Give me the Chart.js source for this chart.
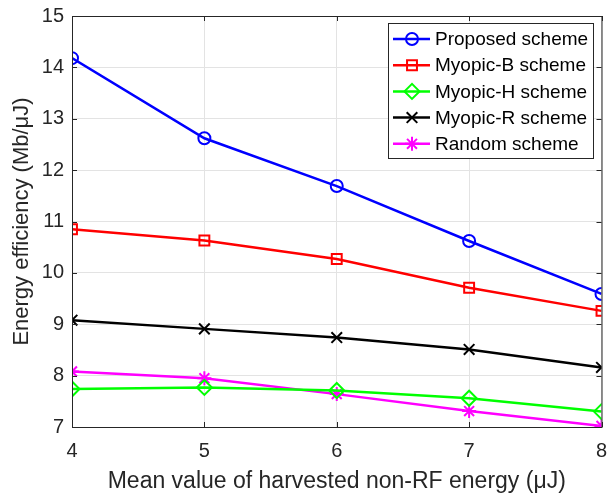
<!DOCTYPE html>
<html>
<head>
<meta charset="utf-8">
<script src="https://cdn.jsdelivr.net/npm/chart.js@4"></script>
<style>
  html, body { margin: 0; padding: 0; background: #fff; }
  #wrap { width: 611px; height: 493px; }
</style>
</head>
<body>
<div id="wrap"><canvas id="c" width="611" height="493"></canvas></div>
<script>
// data
const xValues = [4, 5, 6, 7, 8];
const proposed = [14.18, 12.62, 11.69, 10.62, 9.59];
const myopicB = [10.85, 10.63, 10.27, 9.71, 9.26];
const myopicH = [7.74, 7.77, 7.71, 7.56, 7.30];
const myopicR = [9.08, 8.91, 8.74, 8.51, 8.16];
const randomScheme = [8.08, 7.95, 7.64, 7.31, 7.02];
const seriesNames = ["Proposed scheme", "Myopic-B scheme", "Myopic-H scheme", "Myopic-R scheme", "Random scheme"];
const yTicks = [7, 8, 9, 10, 11, 12, 13, 14, 15];
const xTitle = "Mean value of harvested non-RF energy (\u03bcJ)";
const yTitle = "Energy efficiency (Mb/\u03bcJ)";

const font = "'Liberation Sans', Arial, Helvetica, sans-serif";
const axisColor = "#262626";

function pts(vals) {
  return xValues.map((x, i) => ({ x: x, y: vals[i] }));
}

function ds(label, vals, color, style, radius) {
  return {
    label: label,
    data: pts(vals),
    borderColor: color,
    backgroundColor: "transparent",
    borderWidth: 2.5,
    pointStyle: style,
    pointRadius: radius,
    pointBorderWidth: 2,
    pointBorderColor: color,
    pointBackgroundColor: "transparent",
    tension: 0
  };
}

// box around plot, inward ticks
const boxPlugin = {
  id: "box",
  afterDraw(chart) {
    const ctx = chart.ctx;
    const a = chart.chartArea;
    const sx = chart.scales.x, sy = chart.scales.y;
    ctx.save();
    ctx.strokeStyle = axisColor;
    ctx.lineWidth = 1;
    ctx.strokeRect(a.left + 0.5, a.top + 0.5, a.right - a.left, a.bottom - a.top);
    ctx.beginPath();
    xValues.forEach(v => {
      const px = Math.round(sx.getPixelForValue(v)) + 0.5;
      ctx.moveTo(px, a.bottom); ctx.lineTo(px, a.bottom - 5);
      ctx.moveTo(px, a.top); ctx.lineTo(px, a.top + 5);
    });
    yTicks.forEach(v => {
      const py = Math.round(sy.getPixelForValue(v)) + 0.5;
      ctx.moveTo(a.left, py); ctx.lineTo(a.left + 5, py);
      ctx.moveTo(a.right, py); ctx.lineTo(a.right - 5, py);
    });
    ctx.stroke();
    ctx.restore();
  }
};

// legend drawn inside the plot, top right
const legendPlugin = {
  id: "boxLegend",
  afterDraw(chart) {
    const ctx = chart.ctx;
    const left = 388, top = 23, w = 205, h = 135;
    ctx.save();
    ctx.fillStyle = "#fff";
    ctx.fillRect(left, top, w, h);
    ctx.strokeStyle = "#262626";
    ctx.lineWidth = 1;
    ctx.strokeRect(left + 0.5, top + 0.5, w, h);
    ctx.font = "19px " + font;
    ctx.textBaseline = "middle";
    chart.data.datasets.forEach((d, i) => {
      const y = top + 16 + i * 26.2;
      ctx.strokeStyle = d.borderColor;
      ctx.lineWidth = 2.5;
      ctx.beginPath();
      ctx.moveTo(left + 5, y);
      ctx.lineTo(left + 42, y);
      ctx.stroke();
      ctx.lineWidth = 2;
      ctx.fillStyle = "transparent";
      Chart.helpers.drawPoint(ctx, {
        pointStyle: d.pointStyle,
        radius: d.pointRadius,
        rotation: 0,
        borderWidth: 2
      }, left + 24, y);
      ctx.fillStyle = "#000";
      ctx.fillText(d.label, left + 47, y + 1);
    });
    ctx.restore();
  }
};

new Chart(document.getElementById("c"), {
  type: "line",
  data: {
    datasets: [
      ds(seriesNames[0], proposed, "#0000ff", "circle", 6),
      ds(seriesNames[1], myopicB, "#ff0000", "rect", 7),
      ds(seriesNames[2], myopicH, "#00ff00", "rectRot", 7.5),
      ds(seriesNames[3], myopicR, "#000000", "crossRot", 7.5),
      ds(seriesNames[4], randomScheme, "#ff00ff", "star", 7)
    ]
  },
  options: {
    responsive: false,
    animation: false,
    layout: { padding: { left: 0, top: 16, right: 7, bottom: 0 } },
    plugins: {
      legend: { display: false },
      tooltip: { enabled: false }
    },
    scales: {
      x: {
        type: "linear",
        min: 4,
        max: 8,
        ticks: {
          stepSize: 1,
          padding: 12,
          color: axisColor,
          font: { family: font, size: 20 }
        },
        grid: { color: "#e3e3e3", drawTicks: false },
        border: { display: false },
        title: {
          display: true,
          text: xTitle,
          color: axisColor,
          font: { family: font, size: 23 },
          padding: { top: 0, bottom: -2 }
        },
        afterFit(scale) {
          scale.height = 66;
          scale.paddingLeft = 0;
          scale.paddingRight = 0;
        }
      },
      y: {
        min: 7,
        max: 15,
        afterBuildTicks(scale) { scale.ticks = yTicks.map(v => ({ value: v })); },
        ticks: {
          padding: 8,
          color: axisColor,
          font: { family: font, size: 20 }
        },
        grid: { color: "#e3e3e3", drawTicks: false },
        border: { display: false },
        title: {
          display: true,
          text: yTitle,
          color: axisColor,
          font: { family: font, size: 22 },
          padding: { top: 9, bottom: 0 }
        },
        afterFit(scale) {
          scale.width = 72;
          scale.paddingTop = 0;
          scale.paddingBottom = 0;
        }
      }
    }
  },
  plugins: [boxPlugin, legendPlugin]
});
</script>
</body>
</html>
